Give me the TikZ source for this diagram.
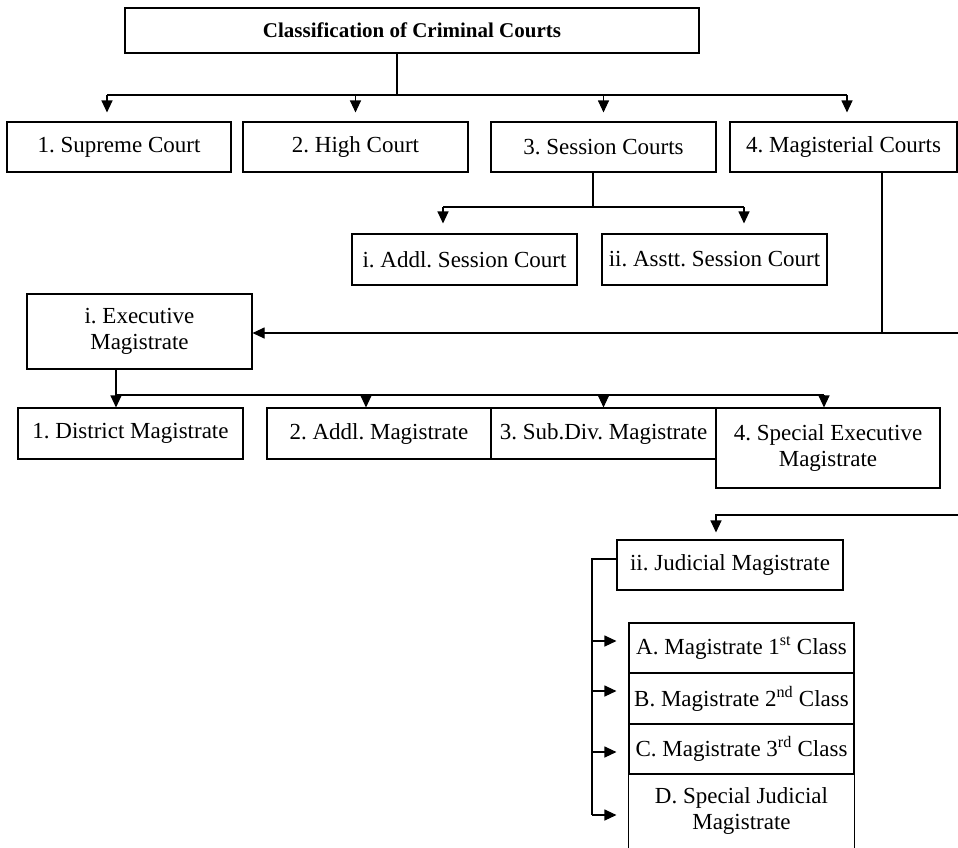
\documentclass[tikz,border=0pt]{standalone}
\usepackage{fontspec}
\setmainfont{Liberation Serif}
\usetikzlibrary{arrows.meta,calc}
\begin{document}
\frenchspacing
\begin{tikzpicture}[x=1pt,y=-1pt,
  box/.style={draw, line width=1.1pt, inner sep=0pt, align=center, font=\fontsize{23}{26}\selectfont\frenchspacing},
  ln/.style={line width=1.1pt},
  arr/.style={line width=1.1pt, -{Triangle[length=12pt,width=11pt]}}]
\useasboundingbox (0,0) rectangle (958,847);
% nodes
\node[box, font=\fontsize{21}{25}\selectfont\bfseries, minimum width=574pt, minimum height=45pt] (title) at (412,30.5) {Classification of Criminal Courts};
\node[box, minimum width=224pt, minimum height=50pt] (sc) at (119,147) {1. Supreme Court};
\node[box, minimum width=225pt, minimum height=50pt] (hc) at (355.5,147) {2. High Court};
\node[box, minimum width=225pt, minimum height=50pt] (ss) at (603.5,147) {3. Session Courts};
\node[box, minimum width=227pt, minimum height=50pt] (mc) at (843.5,147) {4. Magisterial Courts};
\node[box, minimum width=225pt, minimum height=51pt] (ads) at (464.5,259.5) {i. Addl. Session Court};
\node[box, minimum width=225pt, minimum height=51pt] (ass) at (714.5,259.5) {ii. Asstt. Session Court};
\node[box, minimum width=225pt, minimum height=75pt] (em) at (139.5,331.5) {i. Executive\\Magistrate};
\node[box, minimum width=225pt, minimum height=51pt] (dm) at (130.5,433.5) {1. District Magistrate};
\node[box, minimum width=224pt, minimum height=51pt] (am) at (379,433.5) {2. Addl. Magistrate};
\node[box, minimum width=225pt, minimum height=51pt] (sdm) at (603.5,433.5) {3. Sub.Div. Magistrate};
\node[box, minimum width=224pt, minimum height=80pt] (sem) at (828,448) {4. Special Executive\\Magistrate};
\node[box, minimum width=226pt, minimum height=50pt] (jm) at (730,565) {ii. Judicial Magistrate};
\node[box, minimum width=225pt, minimum height=50pt] (ma) at (741.5,648) {A. Magistrate 1\textsuperscript{st} Class};
\node[box, minimum width=225pt, minimum height=51pt] (mb) at (741.5,698.5) {B. Magistrate 2\textsuperscript{nd} Class};
\node[box, minimum width=225pt, minimum height=50pt] (mcl) at (741.5,749) {C. Magistrate 3\textsuperscript{rd} Class};
\node[box, draw=none, minimum width=225pt, minimum height=73pt] (md) at (741.5,810.5) {D. Special Judicial\\Magistrate};
\draw[ln] (md.south west) -- (md.north west) -- (md.north east) -- (md.south east);
% top level connectors
\coordinate (t) at (397,95);
\coordinate (ta) at ($(sc.north)+(-12,0)$);
\coordinate (td) at ($(mc.north)+(3.5,0)$);
\draw[ln] (title.south -| t) -- (t);
\draw[ln] (ta |- t) -- (td |- t);
\draw[arr, shorten >=9pt] (ta |- t) -- (ta);
\draw[arr, shorten >=9pt] (hc.north |- t) -- (hc.north);
\draw[arr, shorten >=9pt] (ss.north |- t) -- (ss.north);
\draw[arr, shorten >=9pt] (td |- t) -- (td);
% session courts
\coordinate (s) at (593,207);
\coordinate (sa) at ($(ads.north)+(-21.5,0)$);
\coordinate (sb) at ($(ass.north)+(29.5,0)$);
\draw[ln] (ss.south -| s) -- (s);
\draw[ln] (sa |- s) -- (sb |- s);
\draw[arr, shorten >=10pt] (sa |- s) -- (sa);
\draw[arr, shorten >=10pt] (sb |- s) -- (sb);
% magisterial courts
\coordinate (m) at (882,333);
\coordinate (r1) at (958,333);
\draw[ln] (mc.south -| m) -- (m);
\draw[arr] (r1) -- (em.east |- r1);
% executive
\coordinate (e) at (116,395);
\coordinate (eb) at ($(am.north)+(-13,0)$);
\coordinate (ed) at ($(sem.north)+(-4,0)$);
\draw[ln] (em.south -| e) -- (e) -- (ed |- e);
\draw[arr] (e) -- (dm.north -| e);
\draw[arr] (eb |- e) -- (eb);
\draw[arr] (sdm.north |- e) -- (sdm.north);
\draw[arr] (ed |- e) -- (ed);
% judicial
\coordinate (r2) at (958,515);
\coordinate (jc) at (716,515);
\draw[arr, shorten >=7pt] (r2) -- (jc) -- (jc |- jm.north);
\coordinate (v) at (592,559);
\coordinate (pa) at ($(ma.west)+(0,-7)$);
\coordinate (pb) at ($(mb.west)+(0,-7.5)$);
\coordinate (pc) at ($(mcl.west)+(0,3)$);
\coordinate (pd) at ($(md.west)+(0,4.5)$);
\draw[ln] ($(jm.west)+(0,-6)$) -- (v) -- (v |- pd);
\draw[arr, shorten >=12pt] (v |- pa) -- (pa);
\draw[arr, shorten >=12pt] (v |- pb) -- (pb);
\draw[arr, shorten >=12pt] (v |- pc) -- (pc);
\draw[arr, shorten >=12pt] (v |- pd) -- (pd);
\end{tikzpicture}
\end{document}
